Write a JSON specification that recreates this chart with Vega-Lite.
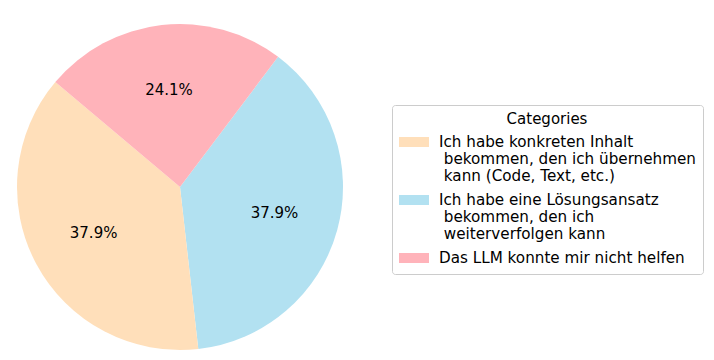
{
  "$schema": "https://vega.github.io/schema/vega-lite/v6.json",
  "width": 360,
  "height": 360,
  "autosize": {"type": "none"},
  "padding": {"left": 0, "top": 7, "right": 354, "bottom": 0},
  "background": "white",
  "config": {
    "font": "DejaVu Sans",
    "view": {"stroke": null}
  },
  "data": {
    "values": [
      {"category": "Ich habe eine Lösungsansatz\n\u200b\u00a0bekommen, den ich\n\u200b\u00a0weiterverfolgen kann", "count": 11, "ord": 1, "label": "37.9%"},
      {"category": "Ich habe konkreten Inhalt\n\u200b\u00a0bekommen, den ich übernehmen\n\u200b\u00a0kann (Code, Text, etc.)", "count": 11, "ord": 2, "label": "37.9%"},
      {"category": "Das LLM konnte mir nicht helfen", "count": 7, "ord": 3, "label": "24.1%"}
    ]
  },
  "encoding": {
    "theta": {"field": "count", "type": "quantitative", "stack": true, "scale": {"range": [0.6458, 6.9290]}},
    "order": {"field": "ord", "type": "quantitative"}
  },
  "layer": [
    {
      "mark": {"type": "arc", "outerRadius": 163},
      "encoding": {
        "color": {
          "field": "category",
          "type": "nominal",
          "scale": {
            "domain": [
              "Ich habe konkreten Inhalt\n\u200b\u00a0bekommen, den ich übernehmen\n\u200b\u00a0kann (Code, Text, etc.)",
              "Ich habe eine Lösungsansatz\n\u200b\u00a0bekommen, den ich\n\u200b\u00a0weiterverfolgen kann",
              "Das LLM konnte mir nicht helfen"
            ],
            "range": ["#FFDFBA", "#B2E1F1", "#FFB3BA"]
          },
          "legend": {
            "title": "Categories",
            "orient": "none",
            "legendX": 392,
            "legendY": 98,
            "titleAnchor": "middle",
            "titleFontSize": 15,
            "titleFontWeight": "normal",
            "titleColor": "black",
            "titlePadding": 5,
            "labelFontSize": 15.2,
            "labelColor": "black",
            "labelLimit": 400,
            "labelExpr": "split(datum.label, '\\n')",
            "labelOffset": 20,
            "symbolType": "M-1,-0.5H2V0.5H-1Z",
            "symbolSize": 400,
            "symbolStrokeWidth": 0,
            "symbolOpacity": 1,
            "rowPadding": 5,
            "padding": 7,
            "strokeColor": "#cccccc",
            "fillColor": "white",
            "cornerRadius": 3
          }
        }
      }
    },
    {
      "mark": {"type": "text", "radius": 98, "fontSize": 15, "color": "black"},
      "encoding": {
        "text": {"field": "label", "type": "nominal"}
      }
    }
  ]
}
